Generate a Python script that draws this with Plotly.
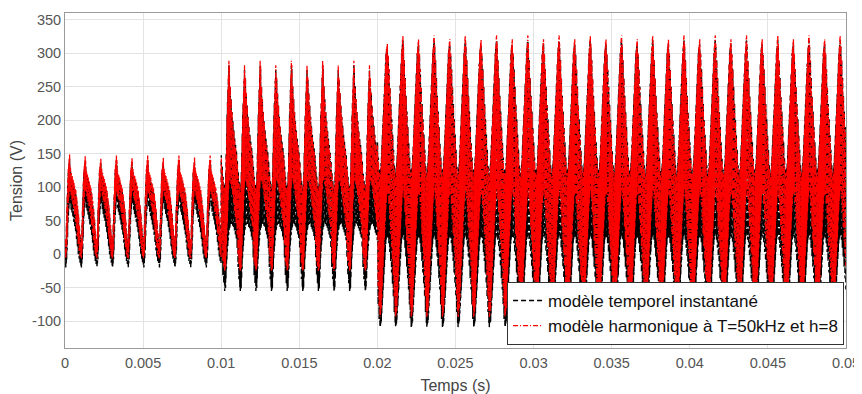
import numpy as np
import plotly.graph_objects as go

# ---------------- data ----------------
cycle_period = 0.001          # s, one fundamental cycle
ripple_per_cycle = 35          # ripples drawn per fundamental cycle

# peak of the red (harmonic model) trace in every 1 ms cycle (V)
red_peaks_seg1 = [152, 148, 145, 149, 146, 149, 146, 149, 146, 149]
red_peaks_seg2 = [294, 287, 294, 287, 294, 287, 294, 287, 294, 287]
red_peaks_seg3 = [316, 329, 323, 329, 323, 329, 323, 329, 323, 329,
                  323, 329, 323, 329, 323, 329, 323, 329, 323, 329,
                  323, 329, 323, 329, 323, 329, 323, 329, 323, 329]

# cycle envelopes (upper / lower ripple limits) vs phase inside a cycle, V
seg1_phase  = [0.00, 0.05, 0.12, 0.20, 0.30, 0.36, 0.45, 0.55, 0.70, 0.85, 0.95, 1.00]
seg1_red_up = [25, 10, 70, 125, 150, 125, 118, 110, 95, 65, 35, 25]
seg1_red_lo = [-5, -6, 15, 70, 100, 90, 80, 70, 45, 15, -3, -5]
seg1_blk_up = [25, 10, 65, 120, 140, 120, 112, 105, 90, 60, 30, 25]
seg1_blk_lo = [-15, -20, -5, 50, 85, 70, 60, 50, 30, 0, -12, -15]

seg2_phase  = [0.00, 0.10, 0.22, 0.28, 0.38, 0.50, 0.58, 0.70, 0.85, 1.00]
seg2_red_up = [145, 115, 90, 105, 205, 294, 250, 210, 172, 145]
seg2_red_lo = [40, -10, -25, -20, 40, 110, 110, 95, 65, 40]
seg2_blk_up = [150, 120, 95, 110, 210, 286, 250, 210, 175, 150]
seg2_blk_lo = [20, -30, -55, -50, 0, 35, 45, 45, 35, 20]

seg3_phase  = [0.00, 0.10, 0.17, 0.25, 0.40, 0.55, 0.63, 0.72, 0.85, 1.00]
seg3_red_up = [165, 125, 112, 135, 215, 300, 329, 290, 228, 165]
seg3_red_lo = [-20, -75, -95, -80, 0, 70, 100, 80, 30, -20]
seg3_blk_up = [170, 130, 118, 140, 220, 300, 319, 290, 230, 170]
seg3_blk_lo = [-55, -95, -110, -100, -40, 20, 30, 20, -10, -55]

x_tick_vals = [0, 0.005, 0.01, 0.015, 0.02, 0.025, 0.03, 0.035, 0.04, 0.045, 0.05]
x_tick_text = ["0", "0.005", "0.01", "0.015", "0.02", "0.025", "0.03", "0.035", "0.04", "0.045", "0.05"]
y_tick_vals = [-100, -50, 0, 50, 100, 150, 200, 250, 300, 350]
y_tick_text = ["-100", "-50", "0", "50", "100", "150", "200", "250", "300", "350"]

name_black = "modèle temporel instantané"
name_red = "modèle harmonique à T=50kHz et h=8"


def build(peaks, first_cycle, phase, up, lo, peak_offset):
    n = 2 * ripple_per_cycle
    ph = (np.arange(n) + 0.5) / n
    pk = int(np.argmax(up))
    ts, ys = [], []
    for j, p in enumerate(peaks):
        u = list(up)
        u[pk] = p - peak_offset
        uu = np.interp(ph, phase, u)
        ll = np.interp(ph, phase, lo)
        y = np.where(np.arange(n) % 2 == 0, uu, ll)
        ts.append((first_cycle + j + ph) * cycle_period)
        ys.append(y)
    return np.concatenate(ts), np.concatenate(ys)


segments = [
    (red_peaks_seg1, 0, seg1_phase, seg1_red_up, seg1_red_lo, seg1_blk_up, seg1_blk_lo),
    (red_peaks_seg2, 10, seg2_phase, seg2_red_up, seg2_red_lo, seg2_blk_up, seg2_blk_lo),
    (red_peaks_seg3, 20, seg3_phase, seg3_red_up, seg3_red_lo, seg3_blk_up, seg3_blk_lo),
]

tr, yr, tb, yb = [], [], [], []
for peaks, c0, ph, rup, rlo, bup, blo in segments:
    t1, y1 = build(peaks, c0, ph, rup, rlo, 0)
    t2, y2 = build(peaks, c0, ph, bup, blo, 8)
    tr.append(t1); yr.append(y1); tb.append(t2); yb.append(y2)
t_red, y_red = np.concatenate(tr), np.concatenate(yr)
t_blk, y_blk = np.concatenate(tb), np.concatenate(yb)

fig = go.Figure()
fig.add_trace(go.Scatter(x=t_blk, y=y_blk, mode="lines", name=name_black,
                         line=dict(color="#000000", width=1.4, dash="5px,3px")))
fig.add_trace(go.Scatter(x=t_red, y=y_red, mode="lines", name=name_red,
                         line=dict(color="#ff0000", width=1.3, dash="5px,2px,1px,2px")))

axis_common = dict(showgrid=True, gridcolor="#e3e3e3", gridwidth=1,
                   showline=True, mirror=True, linecolor="#9a9a9a", linewidth=1,
                   zeroline=False, ticks="", automargin=False,
                   tickfont=dict(size=14.5, color="#555555"))

# the page body adds an 8 px offset, so the figure is sized to the remaining area
fig.update_layout(
    width=854, height=386,
    margin=dict(l=57, r=16, t=5, b=46),
    paper_bgcolor="white", plot_bgcolor="white",
    font=dict(family="Liberation Sans, Arial, sans-serif", color="#333333"),
    xaxis=dict(range=[0, 0.05], tickvals=x_tick_vals, ticktext=x_tick_text,
               ticklabelstandoff=2,
               title=dict(text="Temps (s)", font=dict(size=16, color="#444444"), standoff=10),
               **axis_common),
    yaxis=dict(range=[-140, 360], tickvals=y_tick_vals, ticktext=y_tick_text,
               title=dict(text="Tension (V)", font=dict(size=16, color="#444444"), standoff=6),
               **axis_common),
    legend=dict(x=0.9975, y=0.009, xanchor="right", yanchor="bottom",
                bgcolor="white", bordercolor="#333333", borderwidth=1,
                font=dict(size=17, color="#111111"), itemwidth=30,
                tracegroupgap=0),
    showlegend=True,
)

fig.write_html("out.html")
